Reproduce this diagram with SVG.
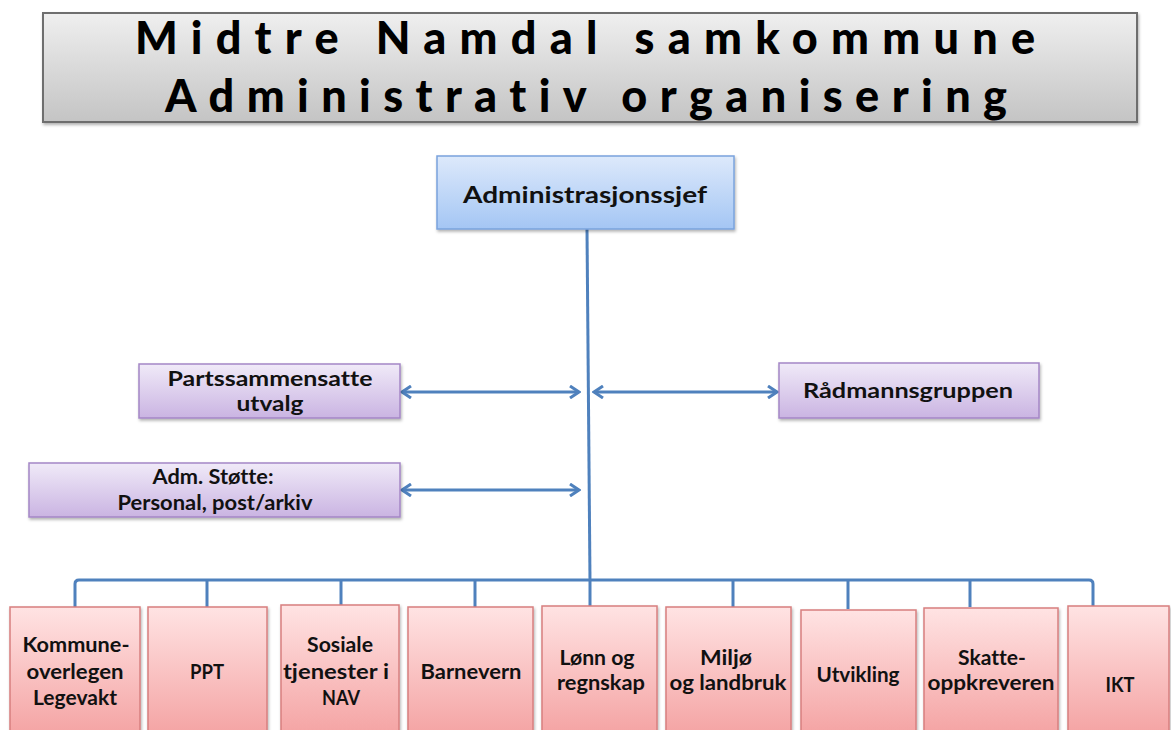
<svg xmlns="http://www.w3.org/2000/svg" width="1171" height="730" viewBox="0 0 1171 730">
<style>
  text { font-family: Lato, "Open Sans", "Liberation Sans", sans-serif; font-weight: bold; fill: #111; text-anchor: middle; font-variant-ligatures: none; }
  .title { font-size: 45px; fill: #000; text-anchor: start; font-weight: 900; }
  .t20 { font-size: 22px; }
  .t18 { font-size: 21px; }
  .t17 { font-size: 20px; }
  .t16 { font-size: 20px; }
  .blue { fill: url(#gBlue); stroke: #7aa3dd; stroke-width: 1.5; }
  .purple { fill: url(#gPurple); stroke: #a486c6; stroke-width: 1.5; }
  .pink { fill: url(#gPink); stroke: #d77f7f; stroke-width: 1.5; }
  .conn { stroke: #4f81bd; stroke-width: 3; fill: none; }
  .arr { stroke: #4f81bd; stroke-width: 3; fill: none; marker-start: url(#ah); marker-end: url(#ah); }
</style>
<defs>
  <linearGradient id="gTitle" x1="0" y1="0" x2="0" y2="1">
    <stop offset="0" stop-color="#efefef"/>
    <stop offset="1" stop-color="#c4c4c4"/>
  </linearGradient>
  <linearGradient id="gBlue" x1="0" y1="0" x2="0" y2="1">
    <stop offset="0" stop-color="#dde9fb"/>
    <stop offset="1" stop-color="#a4c6f4"/>
  </linearGradient>
  <linearGradient id="gPurple" x1="0" y1="0" x2="0" y2="1">
    <stop offset="0" stop-color="#f0eaf8"/>
    <stop offset="1" stop-color="#cab4e2"/>
  </linearGradient>
  <linearGradient id="gPink" x1="0" y1="0" x2="0" y2="1">
    <stop offset="0" stop-color="#ffe3e3"/>
    <stop offset="1" stop-color="#f4a2a2"/>
  </linearGradient>
  <filter id="sh" x="-5%" y="-10%" width="110%" height="130%">
    <feDropShadow dx="1" dy="2" stdDeviation="1.5" flood-color="#000" flood-opacity="0.3"/>
  </filter>
  <marker id="ah" viewBox="-1 -7 12 14" refX="9" refY="0" markerWidth="12" markerHeight="14" markerUnits="userSpaceOnUse" orient="auto-start-reverse">
    <path d="M0,-6 L9,0 L0,6" stroke="#4f81bd" stroke-width="3" fill="none" stroke-linejoin="miter"/>
  </marker>
</defs>

<g id="title">
  <rect x="43" y="13" width="1094" height="109" fill="url(#gTitle)" stroke="#6e6e6e" stroke-width="2" filter="url(#sh)"/>
  <text class="title" x="135" y="54" textLength="900" lengthAdjust="spacing">Midtre Namdal samkommune</text>
  <text class="title" x="165" y="112" textLength="842" lengthAdjust="spacing">Administrativ organisering</text>
</g>

<g id="connectors">
  <line class="conn" x1="587" y1="229" x2="590" y2="581"/>
  <path class="conn" d="M75,607 V584 Q75,580 79,580 H1089 Q1093,580 1093,584 V607"/>
  <line class="conn" x1="207" y1="580" x2="207" y2="607"/>
  <line class="conn" x1="341" y1="580" x2="341" y2="607"/>
  <line class="conn" x1="475" y1="580" x2="475" y2="607"/>
  <line class="conn" x1="590" y1="580" x2="590" y2="607"/>
  <line class="conn" x1="733" y1="580" x2="733" y2="607"/>
  <line class="conn" x1="848" y1="580" x2="848" y2="609"/>
  <line class="conn" x1="970" y1="580" x2="970" y2="607"/>
  <line class="arr" x1="402" y1="392" x2="579" y2="392"/>
  <line class="arr" x1="594" y1="392" x2="777" y2="392"/>
  <line class="arr" x1="402" y1="490" x2="579" y2="490"/>
</g>

<g id="administrasjonssjef">
  <rect class="blue" x="437" y="156" width="297" height="73" filter="url(#sh)"/>
  <text class="t20" x="585" y="203" textLength="244" lengthAdjust="spacingAndGlyphs">Administrasjonssjef</text>
</g>

<g id="partssammensatte">
  <rect class="purple" x="139" y="364" width="261" height="54" filter="url(#sh)"/>
  <text class="t18" x="270" y="386" textLength="205" lengthAdjust="spacingAndGlyphs">Partssammensatte</text>
  <text class="t18" x="270" y="411" textLength="67" lengthAdjust="spacingAndGlyphs">utvalg</text>
</g>

<g id="radmannsgruppen">
  <rect class="purple" x="779" y="363" width="260" height="55" filter="url(#sh)"/>
  <text class="t18" x="908" y="398" textLength="210" lengthAdjust="spacingAndGlyphs">Rådmannsgruppen</text>
</g>

<g id="adm-stotte">
  <rect class="purple" x="29" y="463" width="371" height="54" filter="url(#sh)"/>
  <text class="t17" x="213" y="484" textLength="121" lengthAdjust="spacingAndGlyphs">Adm. Støtte:</text>
  <text class="t17" x="215" y="510" textLength="195" lengthAdjust="spacingAndGlyphs">Personal, post/arkiv</text>
</g>

<g id="kommuneoverlegen">
  <rect class="pink" x="10" y="607" width="130" height="130" filter="url(#sh)"/>
  <text class="t16" x="76" y="652" textLength="107" lengthAdjust="spacingAndGlyphs">Kommune-</text>
  <text class="t16" x="75" y="679" textLength="97" lengthAdjust="spacingAndGlyphs">overlegen</text>
  <text class="t16" x="75" y="705" textLength="84" lengthAdjust="spacingAndGlyphs">Legevakt</text>
</g>

<g id="ppt">
  <rect class="pink" x="148" y="607" width="119" height="130" filter="url(#sh)"/>
  <text class="t16" x="207" y="679" textLength="34" lengthAdjust="spacingAndGlyphs">PPT</text>
</g>

<g id="sosiale">
  <rect class="pink" x="281" y="605" width="118" height="132" filter="url(#sh)"/>
  <text class="t16" x="340" y="652" textLength="66" lengthAdjust="spacingAndGlyphs">Sosiale</text>
  <text class="t16" x="336" y="679" textLength="106" lengthAdjust="spacingAndGlyphs">tjenester i</text>
  <text class="t16" x="341" y="705" textLength="38" lengthAdjust="spacingAndGlyphs">NAV</text>
</g>

<g id="barnevern">
  <rect class="pink" x="408" y="607" width="125" height="130" filter="url(#sh)"/>
  <text class="t16" x="471" y="679" textLength="101" lengthAdjust="spacingAndGlyphs">Barnevern</text>
</g>

<g id="lonn">
  <rect class="pink" x="542" y="606" width="115" height="131" filter="url(#sh)"/>
  <text class="t16" x="597" y="665" textLength="75" lengthAdjust="spacingAndGlyphs">Lønn og</text>
  <text class="t16" x="601" y="690" textLength="88" lengthAdjust="spacingAndGlyphs">regnskap</text>
</g>

<g id="miljo">
  <rect class="pink" x="666" y="607" width="125" height="130" filter="url(#sh)"/>
  <text class="t16" x="726" y="665" textLength="52" lengthAdjust="spacingAndGlyphs">Miljø</text>
  <text class="t16" x="728" y="690" textLength="117" lengthAdjust="spacingAndGlyphs">og landbruk</text>
</g>

<g id="utvikling">
  <rect class="pink" x="801" y="610" width="115" height="127" filter="url(#sh)"/>
  <text class="t16" x="858" y="682" textLength="83" lengthAdjust="spacingAndGlyphs">Utvikling</text>
</g>

<g id="skatteoppkreveren">
  <rect class="pink" x="924" y="608" width="134" height="129" filter="url(#sh)"/>
  <text class="t16" x="992" y="665" textLength="68" lengthAdjust="spacingAndGlyphs">Skatte-</text>
  <text class="t16" x="991" y="690" textLength="127" lengthAdjust="spacingAndGlyphs">oppkreveren</text>
</g>

<g id="ikt">
  <rect class="pink" x="1068" y="606" width="101" height="131" filter="url(#sh)"/>
  <text class="t16" x="1120" y="692" textLength="29" lengthAdjust="spacingAndGlyphs">IKT</text>
</g>
</svg>
